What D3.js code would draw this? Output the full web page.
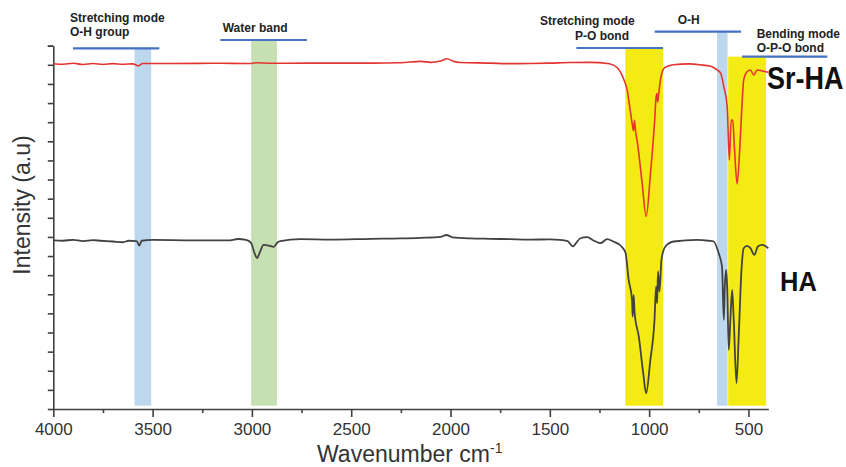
<!DOCTYPE html>
<html>
<head>
<meta charset="utf-8">
<script src="https://cdn.jsdelivr.net/npm/d3@7"></script>
<style>
  body { margin: 0; background: #fff; }
  svg { display: block; font-family: "Liberation Sans", Arial, sans-serif; }
</style>
</head>
<body>
<div id="chart"></div>
<script>
// FTIR spectra, [wavenumber, intensity a.u.]
const srHA = [
  [4000, 18.06], [3950, 18.03], [3900, 18.08], [3850, 18.02], [3800, 18.07], [3750, 18.02],
  [3700, 18.06], [3650, 18.03], [3600, 18.05], [3572, 17.95], [3550, 18.07], [3400, 18.07],
  [3200, 18.08], [3000, 18.07], [2980, 18.11], [2900, 18.08], [2700, 18.09], [2400, 18.09],
  [2250, 18.11], [2150, 18.18], [2100, 18.13], [2050, 18.2], [2017, 18.32], [1985, 18.18],
  [1950, 18.12], [1800, 18.09], [1700, 18.06], [1600, 18.07], [1500, 18.09], [1400, 18.12],
  [1300, 18.13], [1200, 18.06], [1160, 17.85], [1130, 17.3], [1111, 16.7], [1095, 15.6],
  [1086, 14.97], [1079, 14.55], [1074, 15.1], [1068, 14.5], [1060, 14.0], [1035, 11.8],
  [1015, 10.07], [993, 12.35], [973, 14.97], [965, 16.3], [960, 16.5], [957, 16.05],
  [952, 16.45], [943, 17.22], [922, 17.85], [878, 18.0], [800, 18.05], [742, 18.0],
  [690, 17.92], [660, 17.75], [640, 17.56], [624, 16.86], [607, 15.81], [596, 13.02],
  [587, 15.11], [579, 15.1], [570, 13.55], [557, 11.77], [544, 13.55], [532, 16.0],
  [524, 17.2], [507, 17.64], [490, 17.73], [473, 17.47], [456, 17.73], [431, 17.68], [400, 17.61]
];

const ha = [
  [4000, 8.82], [3950, 8.8], [3900, 8.85], [3850, 8.78], [3800, 8.83], [3760, 8.8],
  [3700, 8.76], [3650, 8.72], [3620, 8.8], [3580, 8.78], [3567, 8.55], [3555, 8.8],
  [3500, 8.84], [3300, 8.82], [3110, 8.82], [3070, 8.89], [3030, 8.85], [3005, 8.7],
  [2985, 8.1], [2974, 7.89], [2960, 8.2], [2941, 8.58], [2915, 8.55], [2891, 8.48],
  [2870, 8.72], [2857, 8.78], [2756, 8.88], [2600, 8.86], [2400, 8.9], [2250, 8.92],
  [2150, 8.95], [2050, 9.0], [2021, 9.1], [1990, 8.98], [1900, 8.92], [1800, 8.9],
  [1700, 8.88], [1600, 8.86], [1500, 8.87], [1450, 8.85], [1410, 8.78], [1395, 8.6],
  [1383, 8.5], [1370, 8.65], [1346, 8.93], [1312, 8.99], [1280, 8.81], [1260, 8.72],
  [1245, 8.67], [1212, 8.88], [1180, 8.76], [1150, 8.6], [1136, 8.46], [1119, 8.17],
  [1103, 6.75], [1086, 5.71], [1083, 4.83], [1078, 5.97], [1073, 5.02], [1052, 3.78],
  [1030, 1.9], [1015, 0.82], [994, 2.56], [973, 4.66], [965, 6.4], [960, 5.53],
  [955, 7.19], [948, 6.14], [938, 7.8], [918, 8.5], [876, 8.76], [758, 8.85],
  [700, 8.8], [675, 8.76], [650, 8.15], [633, 7.45], [624, 4.66], [619, 6.4],
  [612, 7.28], [607, 6.4], [599, 3.09], [591, 4.66], [582, 6.23], [574, 4.66],
  [560, 1.35], [549, 3.78], [535, 7.28], [524, 8.41], [507, 8.53], [490, 8.41],
  [470, 8.06], [453, 8.5], [431, 8.58], [400, 8.41]
];

// shaded bands [from, to] in cm-1
const bandRanges = [[3591, 3507], [3004, 2874], [1120, 930], [658, 605], [602, 411]];
const bandColors = ["#bdd7ee", "#c6e0b4", "#f5eb14", "#bdd7ee", "#f5eb14"];

// annotation bars [from, to] in cm-1 and their labels
const noteRanges = [[3901, 3466], [3159, 2723], [1366, 930], [972, 537], [532, 100]];
const noteLabels = [
  ["Stretching mode", "O-H group"],
  ["Water band"],
  ["Stretching mode", "P-O bond"],
  ["O-H"],
  ["Bending mode", "O-P-O bond"]
];

const xMajor = [4000, 3500, 3000, 2500, 2000, 1500, 1000, 500];
const xMinor = [3750, 3250, 2750, 2250, 1750, 1250, 750];
const yTicks = d3.range(0, 20);

const width = 846;
const height = 467;

const x = d3.scaleLinear().domain([4000, 400]).range([53.3, 768.3]);
const y = d3.scaleLinear().domain([0, 19]).range([409, 45.7]);

const svg = d3.select("#chart").append("svg")
  .attr("width", width)
  .attr("height", height);

// bands, tops sit under their annotation bars
const bandTop = [48.3, 40, 48, 31.7, 56.7];
svg.append("g")
  .selectAll("rect")
  .data(bandRanges)
  .enter()
  .append("rect")
  .attr("x", (d) => x(d[0]))
  .attr("width", (d) => x(d[1]) - x(d[0]))
  .attr("y", (d, i) => bandTop[i])
  .attr("height", (d, i) => 405.7 - bandTop[i])
  .attr("fill", (d, i) => bandColors[i]);

// axes
const axisColor = "#404040";

const xAxis = svg.append("g")
  .attr("transform", "translate(0," + y(0) + ")")
  .call(d3.axisBottom(x).tickValues(xMajor).tickSize(8).tickSizeOuter(0)
    .tickPadding(6).tickFormat(d3.format("d")));

svg.append("g")
  .attr("transform", "translate(0," + y(0) + ")")
  .call(d3.axisBottom(x).tickValues(xMinor).tickSize(4).tickFormat(""))
  .select(".domain").remove();

xAxis.selectAll("text")
  .attr("font-size", 17)
  .attr("fill", "#333");

svg.append("g")
  .attr("transform", "translate(" + x(4000) + ",0)")
  .call(d3.axisLeft(y).tickValues(yTicks.concat([19])).tickSize(5.5).tickSizeOuter(0).tickFormat(""));

svg.selectAll(".domain, .tick line")
  .attr("stroke", axisColor)
  .attr("stroke-width", 1.6);

// spectra
const line = d3.line()
  .x((d) => x(d[0]))
  .y((d) => y(d[1]))
  .curve(d3.curveMonotoneX);

svg.append("path")
  .datum(srHA)
  .attr("fill", "none")
  .attr("stroke", "#e4342f")
  .attr("stroke-width", 1.6)
  .attr("d", line);

svg.append("path")
  .datum(ha)
  .attr("fill", "none")
  .attr("stroke", "#424242")
  .attr("stroke-width", 1.8)
  .attr("d", line);

// annotation bars and labels
const noteBarY = [48.3, 40, 48, 31.7, 56.7];
const noteTextX = [[70, 70], [222.7], [540, 575], [677.7], [756.7, 756.7]];
const noteTextY = [[21.7, 36], [32.3], [25, 40], [24], [38.3, 51.7]];

const notes = svg.append("g");
noteRanges.forEach((r, i) => {
  notes.append("line")
    .attr("x1", x(r[0]))
    .attr("x2", Math.min(x(r[1]), 827.3))
    .attr("y1", noteBarY[i])
    .attr("y2", noteBarY[i])
    .attr("stroke", "#4472c4")
    .attr("stroke-width", 2.2);
  noteLabels[i].forEach((t, j) => {
    notes.append("text")
      .attr("x", noteTextX[i][j])
      .attr("y", noteTextY[i][j])
      .attr("font-size", 12)
      .attr("font-weight", "bold")
      .attr("fill", "#222")
      .text(t);
  });
});

// sample labels, slightly condensed like the original artwork
svg.append("text")
  .attr("transform", "translate(767,89) scale(1,1.15)")
  .attr("font-size", 27)
  .attr("font-weight", "bold")
  .attr("fill", "#111")
  .text("Sr-HA");

svg.append("text")
  .attr("transform", "translate(780,290.7) scale(1,1.12)")
  .attr("font-size", 25.5)
  .attr("font-weight", "bold")
  .attr("fill", "#111")
  .text("HA");

// axis titles
const xTitle = svg.append("text")
  .attr("x", 317)
  .attr("y", 461.7)
  .attr("font-size", 23)
  .attr("fill", "#333");
xTitle.append("tspan").text("Wavenumber cm");
xTitle.append("tspan").attr("dy", -9).attr("font-size", 14).text("-1");

svg.append("text")
  .attr("transform", "translate(30,205) rotate(-90)")
  .attr("text-anchor", "middle")
  .attr("font-size", 23)
  .attr("fill", "#333")
  .text("Intensity (a.u)");
</script>
</body>
</html>
